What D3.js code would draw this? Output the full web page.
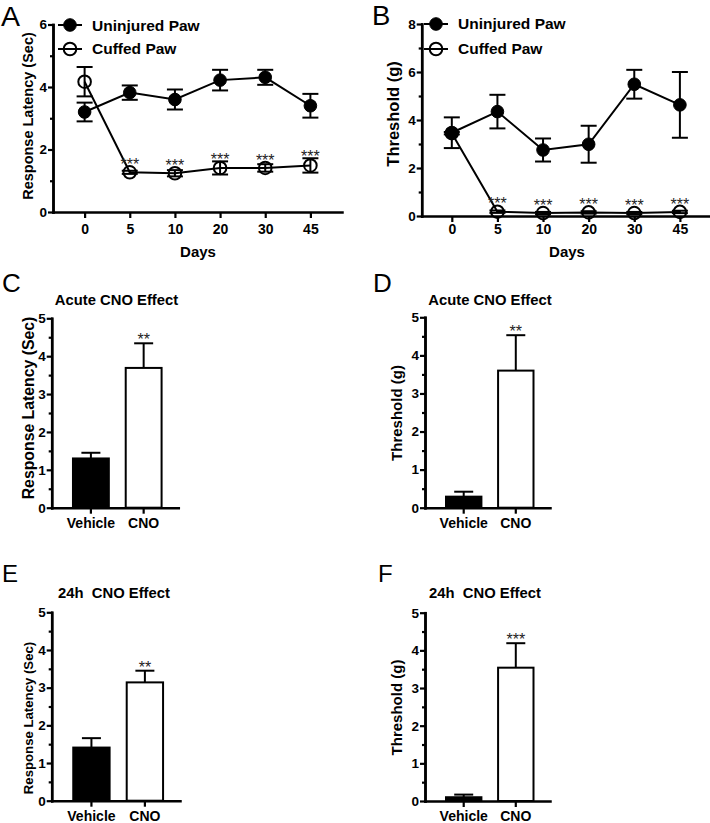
<!DOCTYPE html>
<html><head><meta charset="utf-8">
<script src="https://cdn.jsdelivr.net/npm/d3@7/dist/d3.min.js"></script>
<style>body{margin:0;background:#fff}svg{display:block}</style>
</head><body><svg id="c" width="710" height="823"></svg>
<script>
// ---------- data ----------
const days = ["0", "5", "10", "20", "30", "45"];
const latencyUninjured    = [3.20, 3.82, 3.60, 4.22, 4.31, 3.40];
const latencyUninjuredErr = [0.30, 0.23, 0.32, 0.33, 0.24, 0.38];
const latencyCuffed       = [4.17, 1.27, 1.24, 1.41, 1.41, 1.49];
const latencyCuffedErr    = [0.47, 0.05, 0.10, 0.21, 0.12, 0.23];
const thresholdUninjured    = [3.47, 4.35, 2.75, 2.99, 5.49, 4.63];
const thresholdUninjuredErr = [0.64, 0.70, 0.48, 0.77, 0.60, 1.37];
const thresholdCuffed       = [3.45, 0.18, 0.12, 0.15, 0.12, 0.17];
const thresholdCuffedErr    = [0.05, 0.05, 0.05, 0.05, 0.05, 0.05];
const cuffedSig = ["", "***", "***", "***", "***", "***"];
const latencyTicks = [0, 2, 4, 6];
const thresholdTicks = [0, 2, 4, 6, 8];

const groups = ["Vehicle", "CNO"];
const acuteLatency = [1.30, 3.69],   acuteLatencyErr = [0.15, 0.65];
const acuteThreshold = [0.29, 3.60], acuteThresholdErr = [0.13, 0.93];
const dayLatency = [1.41, 3.14],     dayLatencyErr = [0.25, 0.31];
const dayThreshold = [0.10, 3.54],   dayThresholdErr = [0.07, 0.65];
const barTicks = [0, 1, 2, 3, 4, 5];
const barMinor = [0.5, 1.5, 2.5, 3.5, 4.5];

// ---------- drawing ----------
const FONT = "'Liberation Sans', Arial, Helvetica, sans-serif";
const svg = d3.select("#c");
const fmt = d3.format("d");

function styleAxis(g, fs) {
  g.select(".domain").attr("stroke", "#000").attr("stroke-width", 2.5).attr("stroke-linecap", "square");
  g.selectAll(".tick line").attr("stroke", "#000").attr("stroke-width", 2.2);
  g.selectAll(".tick text").attr("fill", "#000").style("font-family", FONT)
    .style("font-weight", "bold").style("font-size", fs + "px");
}

function letter(t, x, y, fs) {
  svg.append("text").attr("x", x).attr("y", y).text(t)
    .style("font-family", FONT).style("font-size", fs + "px").attr("fill", "#000");
}

function yLabel(t, cx, cy, fs) {
  svg.append("text").attr("transform", `translate(${cx},${cy}) rotate(-90)`)
    .attr("text-anchor", "middle").attr("dy", "0.36em").text(t)
    .style("font-family", FONT).style("font-weight", "bold").style("font-size", fs + "px");
}

function linePanel(o) {
  const x = d3.scalePoint().domain(days).range([o.x0, o.x1]).padding(o.pad);
  const y = d3.scaleLinear().domain([0, o.ymax]).range([o.yb, o.yt]);
  const g = svg.append("g");
  const minor = d3.range(1, o.ymax, 2);
  g.append("g").attr("transform", `translate(${o.x0},0)`)
    .call(d3.axisLeft(y).tickValues(minor).tickSize(3).tickFormat("").tickSizeOuter(0))
    .call(a => styleAxis(a, 13));
  g.append("g").attr("transform", `translate(${o.x0},0)`)
    .call(d3.axisLeft(y).tickValues(o.ticks).tickFormat(fmt).tickSize(5).tickPadding(1).tickSizeOuter(0))
    .call(a => styleAxis(a, 13.5));
  g.append("g").attr("transform", `translate(0,${o.yb})`)
    .call(d3.axisBottom(x).tickSize(6).tickPadding(o.xpad).tickSizeOuter(0))
    .call(a => styleAxis(a, 14));

  const r = 6.3, cap = 8;
  function series(vals, errs, filled) {
    const pts = days.map((d, i) => ({ d, v: vals[i], e: errs[i] }));
    g.append("path").datum(pts)
      .attr("d", d3.line().x(p => x(p.d)).y(p => y(p.v)))
      .attr("fill", "none").attr("stroke", "#000").attr("stroke-width", 2);
    const eb = g.append("g").attr("stroke", "#000").attr("stroke-width", 2);
    pts.forEach(p => {
      const cx = x(p.d), t = y(p.v + p.e), b = y(Math.max(0, p.v - p.e));
      eb.append("line").attr("x1", cx).attr("x2", cx).attr("y1", t).attr("y2", b);
      eb.append("line").attr("x1", cx - cap).attr("x2", cx + cap).attr("y1", t).attr("y2", t);
      eb.append("line").attr("x1", cx - cap).attr("x2", cx + cap).attr("y1", b).attr("y2", b);
    });
    g.selectAll(null).data(pts).enter().append("circle")
      .attr("cx", p => x(p.d)).attr("cy", p => y(p.v)).attr("r", r)
      .attr("fill", filled ? "#000" : "none").attr("stroke", "#000").attr("stroke-width", filled ? 1 : 2);
    return pts;
  }
  series(o.u, o.ue, true);
  const cp = series(o.c, o.ce, false);
  cp.forEach((p, i) => {
    if (!cuffedSig[i]) return;
    const top = Math.min(y(p.v + p.e), y(p.v) - r);
    g.append("text").attr("x", x(p.d)).attr("y", top - 5 + 9).attr("text-anchor", "middle")
      .text(cuffedSig[i]).style("font-family", FONT).style("font-size", "16px").attr("fill", "#222");
  });

  // legend
  const L = [["Uninjured Paw", true, o.ly1, o.lt1], ["Cuffed Paw", false, o.ly2, o.lt2]];
  L.forEach(([name, filled, ly, lt]) => {
    g.append("line").attr("x1", o.lx0).attr("x2", o.lx1).attr("y1", ly).attr("y2", ly)
      .attr("stroke", "#000").attr("stroke-width", 2);
    g.append("circle").attr("cx", (o.lx0 + o.lx1) / 2).attr("cy", ly).attr("r", r)
      .attr("fill", filled ? "#000" : "none").attr("stroke", "#000").attr("stroke-width", filled ? 1 : 2);
    g.append("text").attr("x", o.tx).attr("y", lt).text(name)
      .style("font-family", FONT).style("font-weight", "bold").style("font-size", "15.5px");
  });
  g.append("text").attr("x", o.daysX).attr("y", 257).attr("text-anchor", "middle").text("Days")
    .style("font-family", FONT).style("font-weight", "bold").style("font-size", "15px");
}

function barPanel(o) {
  const x = d3.scaleBand().domain(groups).range([o.x0, o.x1])
    .paddingInner(0.32).paddingOuter(0.36).align(0.56);
  const y = d3.scaleLinear().domain([0, 5]).range([o.yb, o.yt]);
  const g = svg.append("g");
  const bw = x.bandwidth();
  groups.forEach((k, i) => {
    const v = o.vals[i], e = o.errs[i], cx = x(k) + bw / 2;
    g.append("line").attr("x1", cx).attr("x2", cx).attr("y1", y(v)).attr("y2", y(v + e))
      .attr("stroke", "#000").attr("stroke-width", 2);
    g.append("line").attr("x1", cx - 9.5).attr("x2", cx + 9.5).attr("y1", y(v + e)).attr("y2", y(v + e))
      .attr("stroke", "#000").attr("stroke-width", 2);
    g.append("rect").attr("x", x(k)).attr("y", y(v)).attr("width", bw).attr("height", o.yb - y(v))
      .attr("fill", i === 0 ? "#000" : "#fff").attr("stroke", "#000").attr("stroke-width", 2);
  });
  g.append("text").attr("x", x("CNO") + bw / 2).attr("y", y(o.vals[1] + o.errs[1]) - 7 + 9)
    .attr("text-anchor", "middle").text(o.sig)
    .style("font-family", FONT).style("font-size", "16px").attr("fill", "#222");
  g.append("g").attr("transform", `translate(${o.x0},0)`)
    .call(d3.axisLeft(y).tickValues(barMinor).tickSize(3).tickFormat("").tickSizeOuter(0))
    .call(a => styleAxis(a, 13));
  g.append("g").attr("transform", `translate(${o.x0},0)`)
    .call(d3.axisLeft(y).tickValues(barTicks).tickFormat(fmt).tickSize(5).tickPadding(1).tickSizeOuter(0))
    .call(a => styleAxis(a, 13.5));
  g.append("g").attr("transform", `translate(0,${o.yb})`)
    .call(d3.axisBottom(x).tickSize(6).tickPadding(4.5).tickSizeOuter(0))
    .call(a => styleAxis(a, 14));
  svg.append("text").attr("x", o.tx).attr("y", o.ty).attr("text-anchor", "middle")
    .attr("xml:space", "preserve").style("white-space", "pre").text(o.title)
    .style("font-family", FONT).style("font-weight", "bold").style("font-size", "14.8px");
}

// Panel A
linePanel({ x0: 53, x1: 342, pad: 0.7, yb: 212, yt: 24.5, ymax: 6, ticks: latencyTicks, xpad: 6,
  u: latencyUninjured, ue: latencyUninjuredErr, c: latencyCuffed, ce: latencyCuffedErr,
  lx0: 58, lx1: 82, ly1: 25, ly2: 49, tx: 92, lt1: 30.5, lt2: 54, daysX: 198 });
letter("A", 1, 26, 28.5);
yLabel("Response Latency (Sec)", 28, 116, 14.5);

// Panel B
linePanel({ x0: 421.7, x1: 710, pad: 0.66, yb: 216, yt: 24, ymax: 8, ticks: thresholdTicks, xpad: 2,
  u: thresholdUninjured, ue: thresholdUninjuredErr, c: thresholdCuffed, ce: thresholdCuffedErr,
  lx0: 424, lx1: 448, ly1: 24, ly2: 49, tx: 458, lt1: 29, lt2: 54, daysX: 567 });
letter("B", 372, 25, 27.5);
yLabel("Threshold (g)", 393, 114, 16.5);

// Panel C
barPanel({ x0: 51.7, x1: 178.3, yb: 507.7, yt: 318.3, vals: acuteLatency, errs: acuteLatencyErr,
  sig: "**", title: "Acute CNO Effect", tx: 116.5, ty: 305 });
letter("C", 2, 292, 26);
yLabel("Response Latency (Sec)", 28, 408, 15.8);

// Panel D
barPanel({ x0: 425, x1: 550, yb: 507.7, yt: 317.3, vals: acuteThreshold, errs: acuteThresholdErr,
  sig: "**", title: "Acute CNO Effect", tx: 490, ty: 305 });
letter("D", 373, 292, 26);
yLabel("Threshold (g)", 396.7, 413, 15);

// Panel E
barPanel({ x0: 51.7, x1: 180, yb: 800.7, yt: 612.3, vals: dayLatency, errs: dayLatencyErr,
  sig: "**", title: "24h  CNO Effect", tx: 114, ty: 598 });
letter("E", 2, 582, 24);
yLabel("Response Latency (Sec)", 28, 718, 13.2);

// Panel F
barPanel({ x0: 425, x1: 550, yb: 801, yt: 612.7, vals: dayThreshold, errs: dayThresholdErr,
  sig: "***", title: "24h  CNO Effect", tx: 485, ty: 598 });
letter("F", 378, 582, 24);
yLabel("Threshold (g)", 396.7, 707.5, 15);
</script></body></html>
